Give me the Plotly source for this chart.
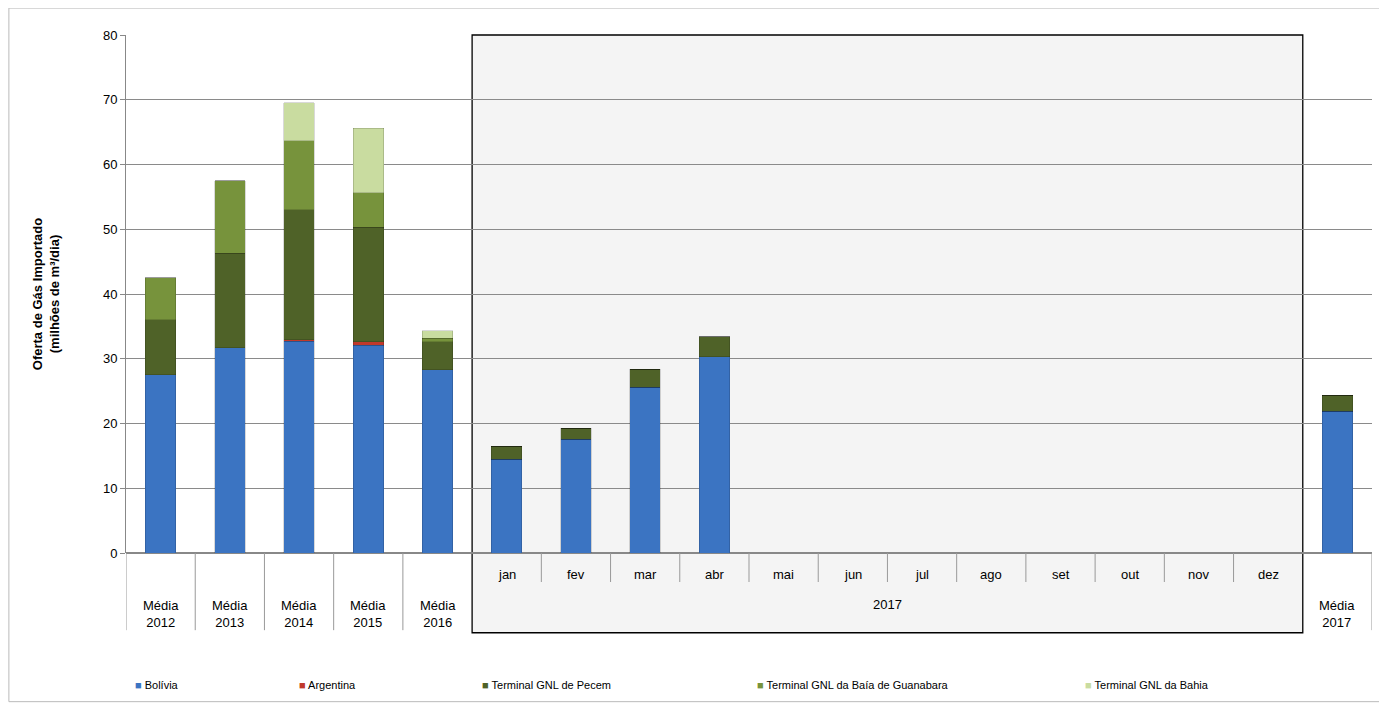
import plotly.graph_objects as go

categories = ["Média<br>2012", "Média<br>2013", "Média<br>2014", "Média<br>2015", "Média<br>2016",
              "jan", "fev", "mar", "abr", "mai", "jun", "jul", "ago", "set", "out", "nov", "dez",
              "Média<br>2017"]
bolivia   = [27.5, 31.7, 32.7, 32.1, 28.3, 14.5, 17.6, 25.6, 30.3, 0, 0, 0, 0, 0, 0, 0, 0, 21.9]
argentina = [0, 0, 0.2, 0.5, 0, 0, 0, 0, 0, 0, 0, 0, 0, 0, 0, 0, 0, 0]
pecem     = [8.5, 14.6, 20.1, 17.7, 4.3, 2.0, 1.7, 2.8, 3.1, 0, 0, 0, 0, 0, 0, 0, 0, 2.5]
guanabara = [6.5, 11.2, 10.7, 5.3, 0.6, 0, 0, 0, 0, 0, 0, 0, 0, 0, 0, 0, 0, 0]
bahia     = [0, 0, 5.8, 10.0, 1.1, 0, 0, 0, 0, 0, 0, 0, 0, 0, 0, 0, 0, 0]

series = [("Bolívia", bolivia, "#3b74c2"),
          ("Argentina", argentina, "#c0392b"),
          ("Terminal GNL de Pecem", pecem, "#4f6228"),
          ("Terminal GNL da Baía de Guanabara", guanabara, "#77933c"),
          ("Terminal GNL da Bahia", bahia, "#c9dca0")]

font = "Liberation Sans Narrow, Liberation Sans, Arial"
x = list(range(len(categories)))

fig = go.Figure()
for name, vals, col in series:
    fig.add_trace(go.Bar(x=x, y=vals, name=name, width=0.44,
                         marker=dict(color=col, line=dict(color="rgba(0,0,0,0.25)", width=0.6)),
                         showlegend=False))

shapes = []
# 2017 box
shapes.append(dict(type="rect", xref="x", yref="paper", x0=4.5, x1=16.5, y0=-0.154, y1=1,
                   fillcolor="#f4f4f4", line=dict(color="black", width=1.3), layer="below"))
# outer frame
shapes.append(dict(type="rect", xref="paper", yref="paper", x0=-0.094, x1=1.0088, y0=-0.287, y1=1.052,
                   line=dict(color="#bbbbbb", width=1)))
# category separators
for b in [-0.5, 0.5, 1.5, 2.5, 3.5, 17.5]:
    shapes.append(dict(type="line", xref="x", yref="paper", x0=b, x1=b, y0=0, y1=-0.149,
                       line=dict(color="#999999", width=1)))
for b in range(5, 16):
    shapes.append(dict(type="line", xref="x", yref="paper", x0=b + 0.5, x1=b + 0.5, y0=0, y1=-0.056,
                       line=dict(color="#999999", width=1)))

annotations = []
for i, c in enumerate(categories):
    yy = -0.118 if c.startswith("Média") else -0.042
    annotations.append(dict(x=i, y=yy, xref="x", yref="paper", text=c, showarrow=False,
                            yanchor="middle", font=dict(size=13, family=font, color="black")))
annotations.append(dict(x=10.5, y=-0.10, xref="x", yref="paper", text="2017", showarrow=False,
                        yanchor="middle", font=dict(size=13, family=font, color="black")))

# legend row
legend_x = [133, 297, 480, 755, 1083]
for (name, vals, col), lx in zip(series, legend_x):
    annotations.append(dict(x=(lx - 126) / 1246, y=-0.255, xref="paper", yref="paper",
                            text=f"<span style='color:{col}'>■</span> {name}", showarrow=False,
                            xanchor="left", yanchor="middle",
                            font=dict(size=11, family=font, color="black")))

fig.update_layout(
    width=1387, height=711, barmode="stack",
    margin=dict(l=118, r=23, t=27, b=166),
    paper_bgcolor="white", plot_bgcolor="rgba(0,0,0,0)",
    font=dict(family=font, color="black"),
    shapes=shapes, annotations=annotations,
    xaxis=dict(range=[-0.5, 17.5], showticklabels=False, showgrid=False, zeroline=False,
               showline=False, ticks="", automargin=False),
    yaxis=dict(range=[0, 80], dtick=10, showgrid=True, gridcolor="#8a8a8a", gridwidth=1,
               showline=True, linecolor="#888888", ticks="outside", ticklen=5, tickcolor="#888888",
               tickfont=dict(size=13, family=font), zeroline=True, zerolinecolor="#888888",
               automargin=False,
               title=dict(text="<b>Oferta de Gás Importado<br>(milhões de m³/dia)</b>",
                          font=dict(size=13, family=font), standoff=40)),
)

fig.write_html("out.html")
